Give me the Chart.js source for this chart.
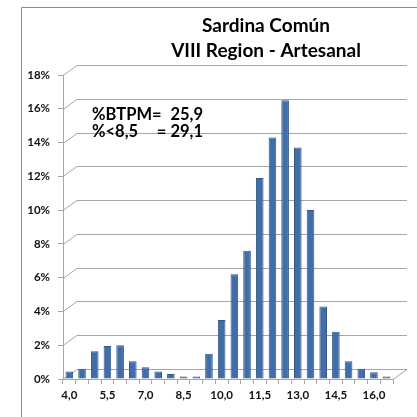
<!DOCTYPE html>
<html>
<head>
<meta charset="utf-8">
<script src="https://cdn.jsdelivr.net/npm/chart.js@4/dist/chart.umd.min.js"></script>
<style>
  html, body { margin: 0; padding: 0; background: #fff; }
  #wrap { width: 417px; height: 417px; }
</style>
</head>
<body>
<div id="wrap"><canvas id="myBarChart"></canvas></div>
<script>
// talla (cm) y porcentaje
var lengths = ['4,0','4,5','5,0','5,5','6,0','6,5','7,0','7,5','8,0','8,5','9,0','9,5','10,0',
  '10,5','11,0','11,5','12,0','12,5','13,0','13,5','14,0','14,5','15,0','15,5','16,0','16,5'];
var percents = [0.45, 0.6, 1.65, 1.95, 2.0, 1.05, 0.7, 0.45, 0.3, 0.15, 0.15, 1.5, 3.5,
  6.2, 7.6, 11.9, 14.3, 16.5, 13.7, 10.0, 4.3, 2.8, 1.05, 0.6, 0.4, 0.15];
var yTicks = [0, 2, 4, 6, 8, 10, 12, 14, 16, 18];
var titleLines = ['Sardina Común', 'VIII Region - Artesanal'];
var noteLines = [['%BTPM=', '25,9'], ['%<8,5', '= 29,1']];

var FONT = 'Lato, "Liberation Sans", sans-serif';
var DX = 14, DY = 10;

// marco exterior + paredes "3D" de fondo
var frame3d = {
  id: 'frame3d',
  beforeDraw: function(chart) {
    var ctx = chart.ctx;
    ctx.save();
    ctx.fillStyle = '#fff';
    ctx.fillRect(0, 0, chart.width, chart.height);
    ctx.strokeStyle = '#8c8c8c';
    ctx.lineWidth = 1;
    ctx.beginPath();
    ctx.moveTo(21.5, chart.height);
    ctx.lineTo(21.5, 7.5);
    ctx.lineTo(chart.width, 7.5);
    ctx.stroke();
    ctx.restore();
  },
  beforeDatasetsDraw: function(chart) {
    var ctx = chart.ctx, a = chart.chartArea, y = chart.scales.y;
    ctx.save();
    ctx.strokeStyle = '#a6a6a6';
    ctx.lineWidth = 1;
    y.ticks.forEach(function(t) {
      var py = Math.round(y.getPixelForValue(t.value)) + 0.5;
      ctx.beginPath();
      ctx.moveTo(a.left, py);
      ctx.lineTo(a.left + DX, py - DY);
      ctx.lineTo(a.right + DX, py - DY);
      ctx.stroke();
    });
    ctx.beginPath();
    ctx.moveTo(a.right, a.bottom + 0.5);
    ctx.lineTo(a.right + DX, a.bottom + 0.5 - DY);
    ctx.stroke();
    ctx.restore();
  },
  afterDraw: function(chart) {
    var ctx = chart.ctx;
    ctx.save();
    ctx.fillStyle = '#000';
    ctx.textAlign = 'center';
    ctx.textBaseline = 'alphabetic';
    ctx.font = 'bold 19px ' + FONT;
    ctx.fillText(titleLines[0], 266, 32);
    ctx.fillText(titleLines[1], 266, 57);
    ctx.font = 'bold 16.5px ' + FONT;
    noteLines.forEach(function(l, i) {
      ctx.textAlign = 'left';
      ctx.fillText(l[0], 92, 120 + i * 17);
      ctx.textAlign = 'right';
      ctx.fillText(l[1], 203, 120 + i * 17);
    });
    ctx.restore();
  }
};

var data = {
  labels: lengths,
  datasets: [{
    label: '%',
    data: percents,
    backgroundColor: '#416ea8',
    borderColor: '#325686',
    borderWidth: 1,
    barPercentage: 0.6,
    categoryPercentage: 1.0
  }]
};

var options = {
  responsive: true,
  maintainAspectRatio: false,
  animation: false,
  layout: { padding: { top: 75, right: 24, bottom: 0, left: 0 } },
  scales: {
    x: {
      type: 'category',
      afterFit: function(s) { s.height = 38; },
      grid: { display: true, drawOnChartArea: false, drawTicks: true, tickLength: 5, color: '#a6a6a6', offset: true },
      border: { display: true, color: '#a6a6a6' },
      ticks: {
        autoSkip: false, maxRotation: 0, padding: 4,
        color: '#111', font: { family: FONT, size: 11.5, weight: 'bold' },
        callback: function(v, i) { return i % 3 === 0 ? lengths[i] : ''; }
      }
    },
    y: {
      min: 0, max: 18,
      afterFit: function(s) { s.width = 63; },
      afterBuildTicks: function(s) { s.ticks = yTicks.map(function(v) { return { value: v }; }); },
      grid: { display: true, drawOnChartArea: false, drawTicks: true, tickLength: 5, color: '#a6a6a6' },
      border: { display: true, color: '#a6a6a6' },
      ticks: {
        padding: 8, color: '#111', font: { family: FONT, size: 11.5, weight: 'bold' },
        callback: function(v) { return v + '%'; }
      }
    }
  },
  plugins: {
    legend: { display: false },
    tooltip: { enabled: false }
  }
};

var ctx = document.getElementById('myBarChart').getContext('2d');
var myChart = new Chart(ctx, {
  type: 'bar',
  data: data,
  options: options,
  plugins: [frame3d]
});
</script>
</body>
</html>
